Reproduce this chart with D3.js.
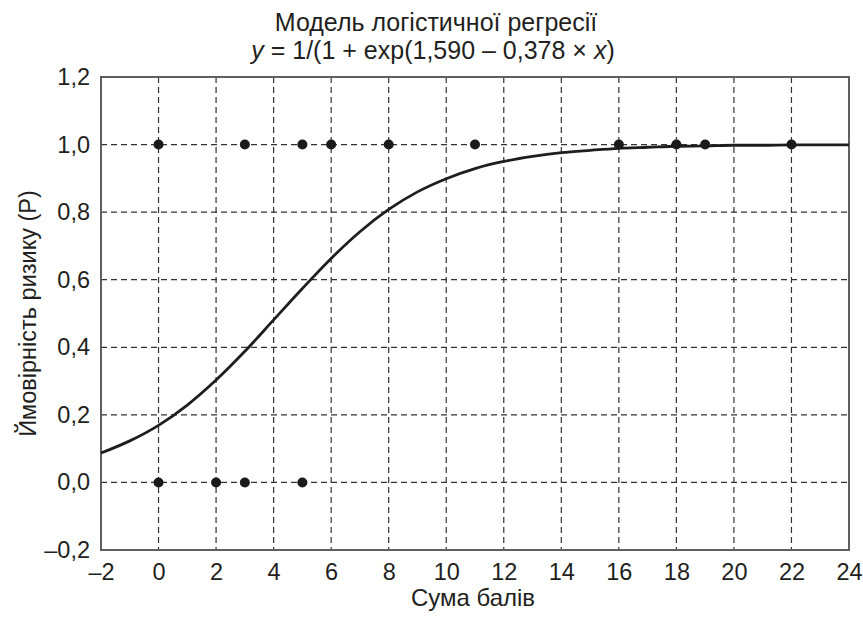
<!DOCTYPE html>
<html>
<head>
<meta charset="utf-8">
<script src="https://cdn.jsdelivr.net/npm/d3@7"></script>
<style>
  body { margin: 0; background: #fff; }
  text { font-family: "Liberation Sans", Arial, sans-serif; fill: #231f20; }
</style>
</head>
<body>
<div id="chart"></div>
<script>
// observed cases: score and outcome (1 = risk, 0 = no risk)
const casesX = [0, 3, 5, 6, 8, 11, 16, 18, 19, 22, 0, 2, 3, 5];
const casesY = [1, 1, 1, 1, 1, 1, 1, 1, 1, 1, 0, 0, 0, 0];

// fitted curve read at each score from -2 to 24
const curveX = [-2, -1, 0, 1, 2, 3, 4, 5, 6, 7, 8, 9, 10, 11, 12, 13, 14, 15, 16, 17, 18, 19, 20, 21, 22, 23, 24];
const curveY = [0.087, 0.123, 0.169, 0.229, 0.303, 0.388, 0.481, 0.574, 0.663, 0.742, 0.808, 0.860, 0.899,
  0.929, 0.950, 0.965, 0.976, 0.983, 0.989, 0.992, 0.995, 0.996, 0.998, 0.998, 0.999, 0.999, 0.999];

const xTicks = [-2, 0, 2, 4, 6, 8, 10, 12, 14, 16, 18, 20, 22, 24];
const yTicks = [-0.2, 0, 0.2, 0.4, 0.6, 0.8, 1.0, 1.2];

const margin = {top: 77, right: 14, bottom: 73, left: 101};
const W = 863, H = 623;
const width = W - margin.left - margin.right;
const height = H - margin.top - margin.bottom;

const svg = d3.select("#chart")
  .append("svg")
  .attr("width", W)
  .attr("height", H);

const g = svg.append("g")
  .attr("transform", `translate(${margin.left},${margin.top})`);

const x = d3.scaleLinear().domain([-2, 24]).range([0, width]);
const y = d3.scaleLinear().domain([-0.2, 1.2]).range([height, 0]);

const uk = d3.formatLocale({decimal: ",", thousands: " ", grouping: [3], currency: ["", ""], minus: "\u2013"});
const fmtY = uk.format(".1f");
const fmtX = d => d < 0 ? "\u2013" + Math.abs(d) : String(d);

/* dashed grid */
g.append("g")
  .selectAll("line")
  .data(xTicks.slice(1, -1))
  .join("line")
    .attr("x1", d => x(d)).attr("x2", d => x(d))
    .attr("y1", 0).attr("y2", height)
    .attr("stroke", "#333")
    .attr("stroke-width", 1.2)
    .attr("stroke-dasharray", "6,4");

g.append("g")
  .selectAll("line")
  .data(yTicks.slice(1, -1))
  .join("line")
    .attr("x1", 0).attr("x2", width)
    .attr("y1", d => y(d)).attr("y2", d => y(d))
    .attr("stroke", "#333")
    .attr("stroke-width", 1.2)
    .attr("stroke-dasharray", "6,4");

/* axes (labels only, frame drawn separately) */
const xAxis = g.append("g")
  .attr("transform", `translate(0,${height})`)
  .call(d3.axisBottom(x).tickValues(xTicks).tickFormat(fmtX).tickSize(0));
const yAxis = g.append("g")
  .call(d3.axisLeft(y).tickValues(yTicks).tickFormat(fmtY).tickSize(0).tickPadding(11));

[xAxis, yAxis].forEach(a => {
  a.select(".domain").remove();
  a.selectAll("text")
    .attr("font-size", 23.5)
    .attr("font-family", "Liberation Sans, Arial, sans-serif")
    .attr("fill", "#231f20");
});
xAxis.selectAll("text").attr("y", 30).attr("dy", 0);

/* frame */
g.append("rect")
  .attr("width", width)
  .attr("height", height)
  .attr("fill", "none")
  .attr("stroke", "#5f5f5f")
  .attr("stroke-width", 2);

/* fitted curve */
const line = d3.line()
  .x((d, i) => x(curveX[i]))
  .y(d => y(d))
  .curve(d3.curveMonotoneX);

g.append("path")
  .datum(curveY)
  .attr("d", line)
  .attr("fill", "none")
  .attr("stroke", "#1e1e1e")
  .attr("stroke-width", 2.8);

/* observed points */
g.append("g")
  .selectAll("circle")
  .data(casesX)
  .join("circle")
    .attr("cx", d => x(d))
    .attr("cy", (d, i) => y(casesY[i]))
    .attr("r", 5)
    .attr("fill", "#1a1a1a");

/* titles */
svg.append("text")
  .attr("x", 436).attr("y", 31)
  .attr("text-anchor", "middle")
  .attr("font-size", 25)
  .text("Модель логістичної регресії");

const t2 = svg.append("text")
  .attr("x", 433).attr("y", 59)
  .attr("text-anchor", "middle")
  .attr("font-size", 25);
t2.append("tspan").attr("font-style", "italic").text("y");
t2.append("tspan").text(" = 1/(1 + exp(1,590 \u2013 0,378 \u00d7 ");
t2.append("tspan").attr("font-style", "italic").text("x");
t2.append("tspan").text(")");

svg.append("text")
  .attr("x", margin.left + width / 2 - 2).attr("y", 606)
  .attr("text-anchor", "middle")
  .attr("font-size", 24)
  .text("Сума балів");

svg.append("text")
  .attr("transform", `translate(36,${margin.top + height / 2}) rotate(-90)`)
  .attr("text-anchor", "middle")
  .attr("font-size", 23.5)
  .text("Ймовірність ризику (P)");
</script>
</body>
</html>
